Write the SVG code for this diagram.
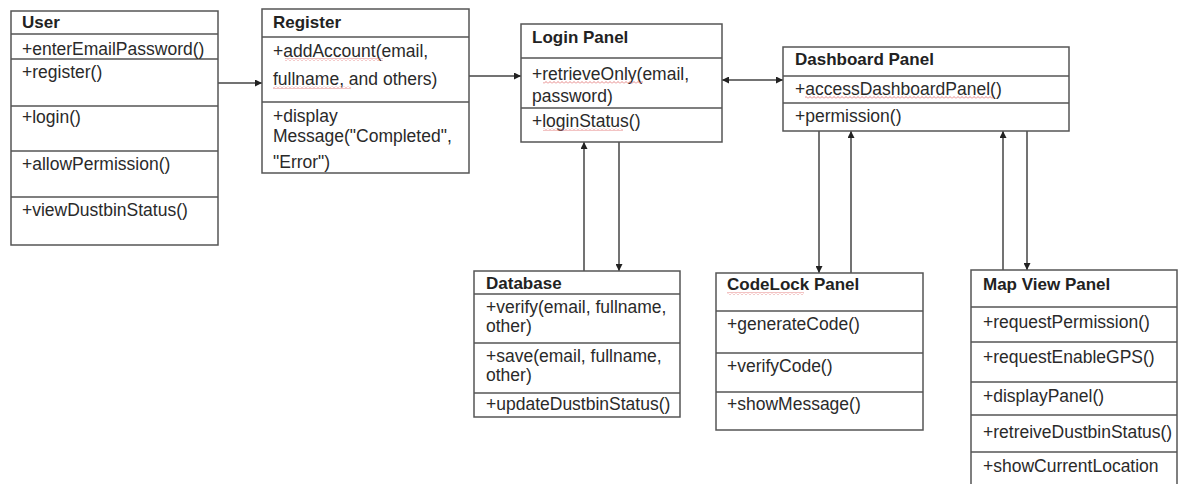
<svg xmlns="http://www.w3.org/2000/svg" width="1178" height="484" viewBox="0 0 1178 484">
<style>
.box{fill:#fff;stroke:#555;stroke-width:1.5}
.div{stroke:#555;stroke-width:1.5}
.t{font-family:"Liberation Sans",Arial,sans-serif;font-size:17.5px;fill:#2a2a2a}
.h{font-weight:bold;font-size:17px;fill:#222}
.c{stroke:#444;stroke-width:1.5;fill:none}
.sq{fill:url(#zig)}
</style>
<defs>
<marker id="ah" viewBox="0 0 10 10" refX="10" refY="5" markerWidth="7" markerHeight="7" markerUnits="userSpaceOnUse" orient="auto-start-reverse">
<path d="M0,0 L10,5 L0,10 z" fill="#222"/>
</marker>
<pattern id="zig" x="0" y="0" width="4" height="3" patternUnits="userSpaceOnUse">
<path d="M0,2.5 L2,0.5 L4,2.5" fill="none" stroke="#e06a6a" stroke-width="0.8"/>
</pattern>
</defs>
<rect width="1178" height="484" fill="#fff"/>

<g id="connectors">
<line class="c" x1="218" y1="83" x2="262" y2="83" marker-end="url(#ah)"/>
<line class="c" x1="469" y1="76" x2="521" y2="76" marker-end="url(#ah)"/>
<line class="c" x1="722" y1="80" x2="783" y2="80" marker-start="url(#ah)" marker-end="url(#ah)"/>
<line class="c" x1="584" y1="271" x2="584" y2="142" marker-end="url(#ah)"/>
<line class="c" x1="619" y1="142" x2="619" y2="271" marker-end="url(#ah)"/>
<line class="c" x1="819" y1="131" x2="819" y2="273" marker-end="url(#ah)"/>
<line class="c" x1="851" y1="273" x2="851" y2="131" marker-end="url(#ah)"/>
<line class="c" x1="1003" y1="270" x2="1003" y2="131" marker-end="url(#ah)"/>
<line class="c" x1="1027" y1="131" x2="1027" y2="270" marker-end="url(#ah)"/>
</g>

<g id="user">
<rect class="box" x="11" y="11" width="207" height="234"/>
<line class="div" x1="11" y1="34" x2="218" y2="34"/>
<line class="div" x1="11" y1="59" x2="218" y2="59"/>
<line class="div" x1="11" y1="106" x2="218" y2="106"/>
<line class="div" x1="11" y1="151" x2="218" y2="151"/>
<line class="div" x1="11" y1="197" x2="218" y2="197"/>
<text class="t h" x="22" y="28">User</text>
<text class="t" x="22" y="55">+enterEmailPassword()</text>
<text class="t" x="22" y="78">+register()</text>
<text class="t" x="22" y="123">+login()</text>
<text class="t" x="22" y="170">+allowPermission()</text>
<text class="t" x="22" y="216">+viewDustbinStatus()</text>
</g>

<g id="register">
<rect class="box" x="262" y="9" width="207" height="164"/>
<line class="div" x1="262" y1="37" x2="469" y2="37"/>
<line class="div" x1="262" y1="102" x2="469" y2="102"/>
<text class="t h" x="273" y="28">Register</text>
<text class="t" x="273" y="57">+addAccount(email,</text>
<text class="t" x="273" y="85">fullname, and others)</text>
<text class="t" x="273" y="122">+display</text>
<text class="t" x="273" y="142">Message("Completed",</text>
<text class="t" x="273" y="168">"Error")</text>
<rect class="sq" x="285" y="58" width="98" height="3"/>
<rect class="sq" x="273" y="86" width="78" height="3"/>
</g>

<g id="login-panel">
<rect class="box" x="521" y="24" width="201" height="118"/>
<line class="div" x1="521" y1="58" x2="722" y2="58"/>
<line class="div" x1="521" y1="108" x2="722" y2="108"/>
<text class="t h" x="532" y="43">Login Panel</text>
<text class="t" x="532" y="80">+retrieveOnly(email,</text>
<text class="t" x="532" y="102">password)</text>
<text class="t" x="532" y="127">+loginStatus()</text>
<rect class="sq" x="543" y="81" width="100" height="3"/>
<rect class="sq" x="543" y="128" width="80" height="3"/>
</g>

<g id="dashboard-panel">
<rect class="box" x="783" y="47" width="286" height="84"/>
<line class="div" x1="783" y1="76" x2="1069" y2="76"/>
<line class="div" x1="783" y1="103" x2="1069" y2="103"/>
<text class="t h" x="795" y="65">Dashboard Panel</text>
<text class="t" x="795" y="95">+accessDashboardPanel()</text>
<text class="t" x="795" y="122">+permission()</text>
<rect class="sq" x="805" y="96" width="188" height="3"/>
</g>

<g id="database">
<rect class="box" x="474" y="271" width="206" height="146"/>
<line class="div" x1="474" y1="294" x2="680" y2="294"/>
<line class="div" x1="474" y1="343" x2="680" y2="343"/>
<line class="div" x1="474" y1="393" x2="680" y2="393"/>
<text class="t h" x="486" y="289">Database</text>
<text class="t" x="486" y="313">+verify(email, fullname,</text>
<text class="t" x="486" y="332">other)</text>
<text class="t" x="486" y="362">+save(email, fullname,</text>
<text class="t" x="486" y="381">other)</text>
<text class="t" x="486" y="410">+updateDustbinStatus()</text>
</g>

<g id="codelock-panel">
<rect class="box" x="716" y="273" width="207" height="157"/>
<line class="div" x1="716" y1="311" x2="923" y2="311"/>
<line class="div" x1="716" y1="353" x2="923" y2="353"/>
<line class="div" x1="716" y1="392" x2="923" y2="392"/>
<text class="t h" x="727" y="290">CodeLock Panel</text>
<text class="t" x="727" y="330">+generateCode()</text>
<text class="t" x="727" y="372">+verifyCode()</text>
<text class="t" x="727" y="410">+showMessage()</text>
<rect class="sq" x="727" y="292" width="77" height="3"/>
</g>

<g id="map-view-panel">
<rect class="box" x="971" y="270" width="206" height="230"/>
<line class="div" x1="971" y1="307" x2="1177" y2="307"/>
<line class="div" x1="971" y1="342" x2="1177" y2="342"/>
<line class="div" x1="971" y1="382" x2="1177" y2="382"/>
<line class="div" x1="971" y1="415" x2="1177" y2="415"/>
<line class="div" x1="971" y1="452" x2="1177" y2="452"/>
<text class="t h" x="983" y="290">Map View Panel</text>
<text class="t" x="983" y="328">+requestPermission()</text>
<text class="t" x="983" y="363">+requestEnableGPS()</text>
<text class="t" x="983" y="402">+displayPanel()</text>
<text class="t" x="983" y="438">+retreiveDustbinStatus()</text>
<text class="t" x="983" y="472">+showCurrentLocation</text>
</g>
</svg>
